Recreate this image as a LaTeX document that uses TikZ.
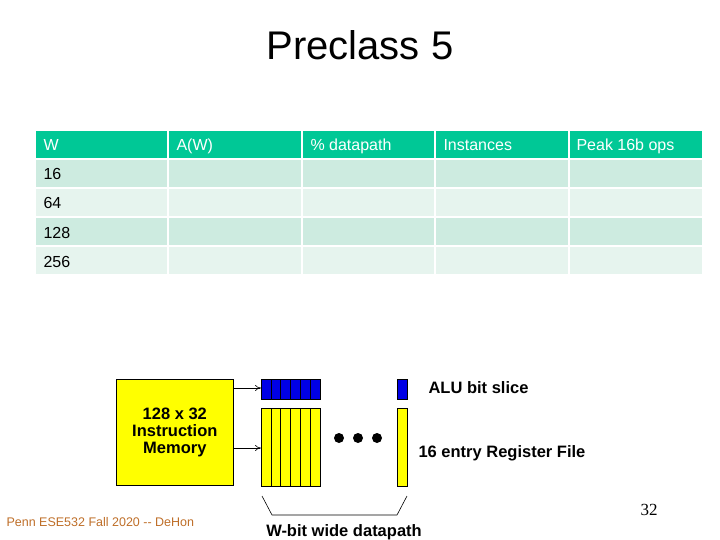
\documentclass[tikz,border=0pt]{standalone}
\usepackage{fontspec}
\setmainfont{Liberation Sans}
\newfontfamily\serifnum{Liberation Serif}
\usetikzlibrary{positioning, arrows.meta}
\definecolor{hdrgreen}{RGB}{0,200,150}
\definecolor{rowdark}{RGB}{205,235,224}
\definecolor{rowlight}{RGB}{230,244,238}
\definecolor{slideyellow}{RGB}{255,255,0}
\definecolor{slideblue}{RGB}{0,0,230}
\definecolor{footbrown}{RGB}{190,110,40}
\tikzset{
  celltext/.style={anchor=base west, font=\fontsize{16}{19}\selectfont},
  hdrtext/.style={anchor=base west, font=\fontsize{16}{19}\selectfont, text=white},
  bitbox/.style={draw=black, line width=0.6pt},
  figlabel/.style={font=\bfseries\fontsize{16.5}{19}\selectfont}
}
\begin{document}
\begin{tikzpicture}[x=1pt, y=-1pt]
  \useasboundingbox (0,0) rectangle (720,540);
  \node (title) at (360,45) {\fontsize{40}{46}\selectfont Preclass 5};
  % table
  \foreach \xa/\xb in {36/167, 169/301, 303/434, 436/568, 570/702} {
    \fill[hdrgreen] (\xa,131) rectangle (\xb,158);
    \fill[rowdark] (\xa,160) rectangle (\xb,187);
    \fill[rowlight] (\xa,189) rectangle (\xb,216);
    \fill[rowdark] (\xa,218) rectangle (\xb,245);
    \fill[rowlight] (\xa,247) rectangle (\xb,274);
  }
  \node[hdrtext] (hw) at (40,151) {W};
  \node[hdrtext] (ha) at (173,151) {A(W)};
  \node[hdrtext] (hd) at (307,151) {\% datapath};
  \node[hdrtext] (hi) at (440,151) {Instances};
  \node[hdrtext] (hp) at (573,151) {Peak 16b ops};
  \node[celltext] (r1) at (40,180) {16};
  \node[celltext] (r2) at (40,209) {64};
  \node[celltext] (r3) at (40,238) {128};
  \node[celltext] (r4) at (40,267) {256};
  % datapath figure
  \node[bitbox, fill=slideyellow, minimum width=117, minimum height=106, anchor=north west,
        inner sep=0pt, align=center, font=\bfseries\fontsize{16.5}{17}\selectfont] (imem) at (116,379)
        {128 x 32\\Instruction\\Memory};
  \foreach \i in {0,...,5} {
    \draw[bitbox, fill=slideblue] ({261+\i*9.8},379) rectangle ({261+(\i+1)*9.8},399);
    \draw[bitbox, fill=slideyellow] ({261+\i*9.8},408) rectangle ({261+(\i+1)*9.8},486);
  }
  \coordinate (alu) at (261,388);
  \coordinate (reg) at (261,448);
  \draw[bitbox, fill=slideblue] (397,379) rectangle (407,399);
  \draw[bitbox, fill=slideyellow] (397,408) rectangle (407,486);
  \draw[-{To[length=6pt,width=6pt]}, line width=0.6pt] (imem.east |- alu) -- (alu);
  \draw[-{To[length=6pt,width=6pt]}, line width=0.6pt] (imem.east |- reg) -- (reg);
  \foreach \x in {339,358,377}
    \fill (\x,438) circle (5);
  \draw[line width=0.6pt] (262,496) -- (272,515) -- (397,515) -- (407,496);
  \node[figlabel, anchor=west] (alulbl) at (425,388) {ALU bit slice};
  \node[figlabel, anchor=west] (reglbl) at (415,453) {16 entry Register File};
  \node[figlabel] (wlbl) at (344,532) {W{-}bit wide datapath};
  \node[anchor=west, text=footbrown, font=\fontsize{12.5}{14}\selectfont] (foot) at (3,522)
        {Penn ESE532 Fall 2020 -{}- DeHon};
  \node (pgnum) at (649,510) {\serifnum\fontsize{17}{19}\selectfont 32};
\end{tikzpicture}
\end{document}
